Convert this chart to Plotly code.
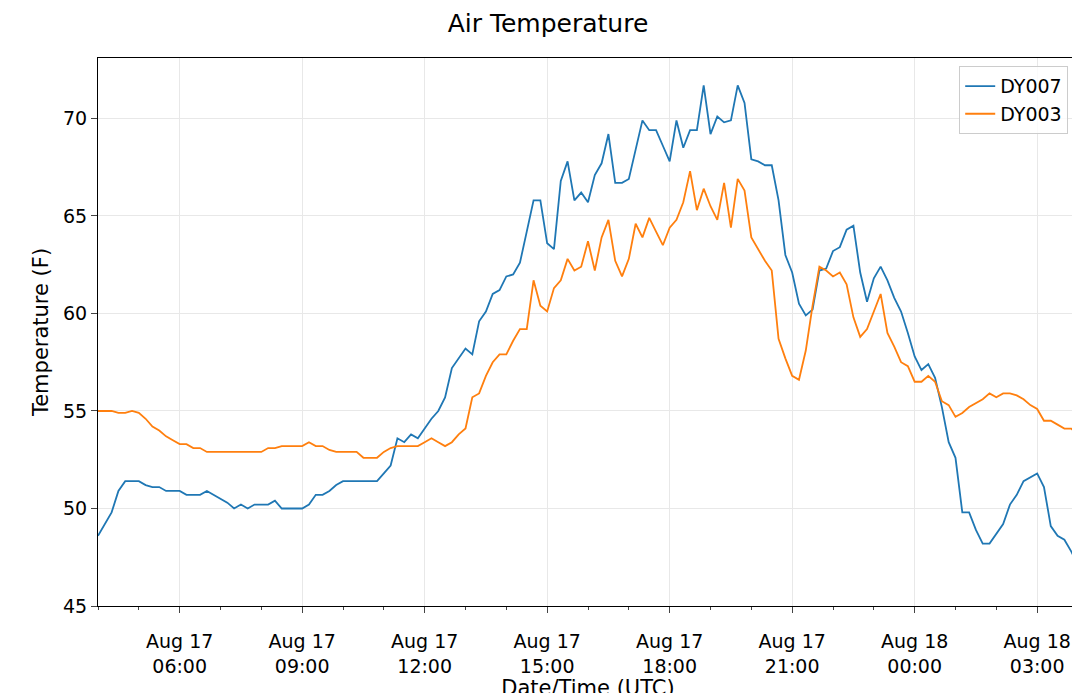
import plotly.graph_objects as go
import pandas as pd

dy007 = [48.6,49.2,49.8,50.9,51.4,51.4,51.4,51.2,51.1,51.1,50.9,50.9,50.9,50.7,50.7,50.7,50.9,50.7,50.5,50.3,
         50.0,50.2,50.0,50.2,50.2,50.2,50.4,50.0,50.0,50.0,50.0,50.2,50.7,50.7,50.9,51.2,51.4,51.4,51.4,51.4,
         51.4,51.4,51.8,52.2,53.6,53.4,53.8,53.6,54.1,54.6,55.0,55.7,57.2,57.7,58.2,57.9,59.6,60.1,61.0,61.2,
         61.9,62.0,62.6,64.2,65.8,65.8,63.6,63.3,66.8,67.8,65.8,66.2,65.7,67.1,67.7,69.2,66.7,66.7,66.9,68.4,
         69.9,69.4,69.4,68.6,67.8,69.9,68.5,69.4,69.4,71.7,69.2,70.1,69.8,69.9,71.7,70.8,67.9,67.8,67.6,67.6,
         65.8,63.0,62.1,60.5,59.9,60.2,62.2,62.3,63.2,63.4,64.3,64.5,62.1,60.6,61.8,62.4,61.7,60.8,60.1,59.0,
         57.8,57.1,57.4,56.7,55.2,53.4,52.6,49.8,49.8,48.9,48.2,48.2,48.7,49.2,50.2,50.7,51.4,51.6,51.8,51.1,
         49.1,48.6,48.4,47.8,47.1,46.2]
dy003 = [55.0,55.0,55.0,54.9,54.9,55.0,54.9,54.6,54.2,54.0,53.7,53.5,53.3,53.3,53.1,53.1,52.9,52.9,52.9,52.9,
         52.9,52.9,52.9,52.9,52.9,53.1,53.1,53.2,53.2,53.2,53.2,53.4,53.2,53.2,53.0,52.9,52.9,52.9,52.9,52.6,
         52.6,52.6,52.9,53.1,53.2,53.2,53.2,53.2,53.4,53.6,53.4,53.2,53.4,53.8,54.1,55.7,55.9,56.8,57.5,57.9,
         57.9,58.6,59.2,59.2,61.7,60.4,60.1,61.3,61.7,62.8,62.2,62.4,63.7,62.2,63.9,64.8,62.7,61.9,62.8,64.6,
         63.9,64.9,64.2,63.5,64.4,64.8,65.7,67.3,65.3,66.4,65.5,64.8,66.7,64.4,66.9,66.3,63.9,63.3,62.7,62.2,
         58.7,57.7,56.8,56.6,58.1,60.4,62.4,62.2,61.9,62.1,61.5,59.8,58.8,59.2,60.1,61.0,59.0,58.3,57.5,57.3,
         56.5,56.5,56.8,56.5,55.5,55.3,54.7,54.9,55.2,55.4,55.6,55.9,55.7,55.9,55.9,55.8,55.6,55.3,55.1,54.5,
         54.5,54.3,54.1,54.1,53.8]

t007 = pd.date_range("2023-08-17 04:00", periods=len(dy007), freq="10min")
t003 = pd.date_range("2023-08-17 04:00", periods=len(dy003), freq="10min")

fig = go.Figure()
fig.add_trace(go.Scatter(x=t007, y=dy007, mode="lines", name="DY007", line=dict(color="#1f77b4", width=1.8)))
fig.add_trace(go.Scatter(x=t003, y=dy003, mode="lines", name="DY003", line=dict(color="#ff7f0e", width=1.8)))

fig.update_layout(
    width=1080, height=693, plot_bgcolor="white", paper_bgcolor="white",
    font=dict(family="DejaVu Sans", size=19, color="black"),
    title=dict(text="Air Temperature", x=0.5, xanchor="center", y=0.99, yanchor="top", font=dict(size=25)),
    margin=dict(l=90, r=10, t=50, b=95),
    legend=dict(x=0.99, y=0.985, xanchor="right", yanchor="top", bordercolor="#cccccc", borderwidth=1,
                bgcolor="rgba(255,255,255,0.8)", font=dict(size=19)),
    xaxis=dict(range=["2023-08-17 04:00", "2023-08-18 04:00"], dtick=3*3600000, tick0="2023-08-17 06:00",
               tickformat="%b %d<br>%H:%M", showgrid=True, gridcolor="#e8e8e8", ticks="outside", ticklen=6,
               showline=True, linecolor="black", mirror=True, tickfont=dict(size=19), automargin=False,
               ticklabelstandoff=12,
               minor=dict(dtick=3600000, ticks="outside", ticklen=3, showgrid=False),
               title=dict(text="Date/Time (UTC)", font=dict(size=21), standoff=4)),
    yaxis=dict(range=[45, 73.1], dtick=5, showgrid=True, gridcolor="#e8e8e8", ticks="outside", ticklen=6,
               showline=True, linecolor="black", mirror=True, zeroline=False, tickfont=dict(size=19),
               automargin=False,
               title=dict(text="Temperature (F)", font=dict(size=21), standoff=8)),
)
fig.write_html("out.html")
